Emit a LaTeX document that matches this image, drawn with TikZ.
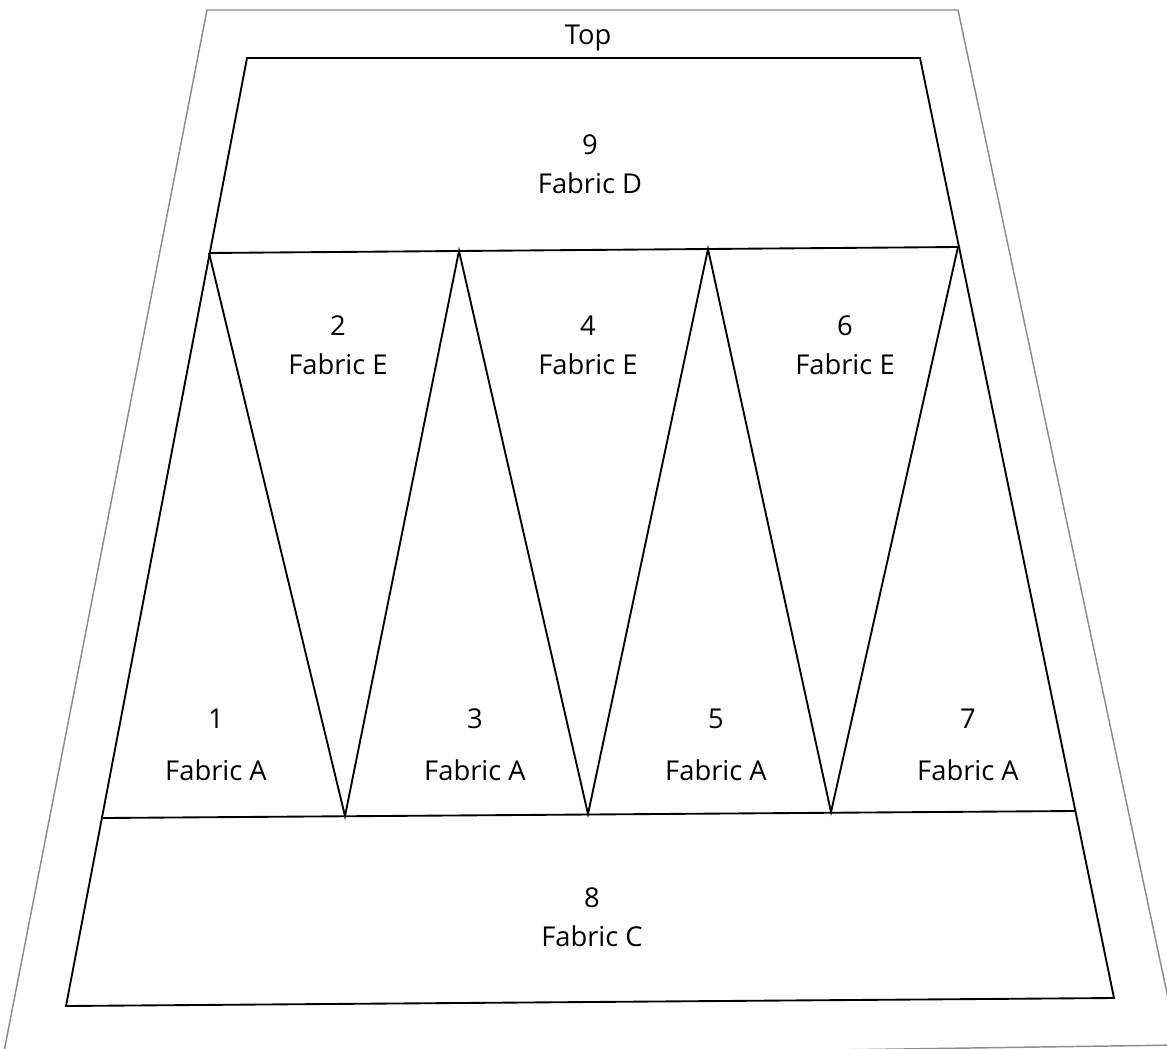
\documentclass[tikz,border=0pt]{standalone}
\usepackage{fontspec}
\setmainfont{Open Sans}
\usepackage{tikz}

\tikzset{
  outline/.style={draw=black!45, line width=1.1pt},
  piece/.style={draw=black, line width=1.4pt, line join=miter},
  lbl/.style={font=\fontsize{20.5}{29}\selectfont, align=center, inner sep=0pt}
}

\begin{document}
\begin{tikzpicture}[x=0.75pt, y=-0.75pt]
  \useasboundingbox (0,0) rectangle (1167,1049);

  % Outer sheet
  \begin{scope}
    \clip (0,0) rectangle (1167,1049);
    \draw[outline] (207,10) -- (958,10) -- (1178,1045) -- (2,1062) -- cycle;
  \end{scope}

  % Corners of the block
  \coordinate (tl) at (247,58);
  \coordinate (tr) at (920,58);
  \coordinate (bl) at (66,1006);
  \coordinate (br) at (1114,998);

  % Top points of the triangles
  \coordinate (t1) at (209,253);
  \coordinate (t2) at (459,251);
  \coordinate (t3) at (708,249);
  \coordinate (t4) at (958,247);

  % Bottom points of the triangles
  \coordinate (b0) at (103,818);
  \coordinate (b1) at (345,816);
  \coordinate (b2) at (588,814);
  \coordinate (b3) at (831,812);
  \coordinate (b4) at (1075,811);

  % Draw the block
  \draw[piece] (tl) -- (tr) -- (br) -- (bl) -- cycle;
  \draw[piece] (t1) -- (t4);
  \draw[piece] (b0) -- (b4);
  \draw[piece] (t1) -- (b1) -- (t2) -- (b2) -- (t3) -- (b3) -- (t4);

  % Labels
  \node[lbl] (top) at (588,38) {Top};
  \node[lbl] (p9) at (590,164) {9\\Fabric D};
  \node[lbl] (p2) at (338,345) {2\\Fabric E};
  \node[lbl] (p4) at (588,345) {4\\Fabric E};
  \node[lbl] (p6) at (845,345) {6\\Fabric E};
  \node[lbl] (p1) at (216,745) {1\\[10pt]Fabric A};
  \node[lbl] (p3) at (475,745) {3\\[10pt]Fabric A};
  \node[lbl] (p5) at (716,745) {5\\[10pt]Fabric A};
  \node[lbl] (p7) at (968,745) {7\\[10pt]Fabric A};
  \node[lbl] (p8) at (592,917) {8\\Fabric C};
\end{tikzpicture}
\end{document}
